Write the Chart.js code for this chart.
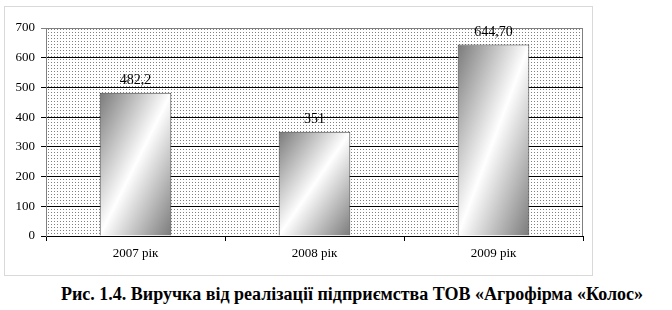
<!DOCTYPE html>
<html>
<head>
<meta charset="utf-8">
<script src="https://cdn.jsdelivr.net/npm/chart.js@4"></script>
<style>
  body { margin: 0; background: #fff; width: 672px; height: 310px; position: relative; overflow: hidden; }
  #box { position: absolute; left: 4px; top: 6px; width: 587px; height: 268px; border: 1px solid #d9d9d9; }
  #caption { position: absolute; left: 0; width: 704px; top: 284px; text-align: center;
    font: bold 18px "Liberation Serif", serif; color: #000; white-space: nowrap; }
</style>
</head>
<body>
<div id="box"><canvas id="revenueChart" width="587" height="268"></canvas></div>
<div id="caption">Рис. 1.4. Виручка від реалізації підприємства ТОВ «Агрофірма «Колос»</div>
<script>
const years = ['2007 рік', '2008 рік', '2009 рік'];
const revenue = [482.2, 351, 644.7];
const revenueLabels = ['482,2', '351', '644,70'];
const yTicks = [0, 100, 200, 300, 400, 500, 600, 700];

// dotted fill for the plot area
function dotPattern(ctx) {
  const c = document.createElement('canvas');
  c.width = 3; c.height = 3;
  const p = c.getContext('2d');
  p.fillStyle = '#fff';
  p.fillRect(0, 0, 3, 3);
  p.fillStyle = '#808080';
  p.fillRect(1, 1, 1, 1);
  return ctx.createPattern(c, 'repeat');
}

const plotBackground = {
  id: 'plotBackground',
  beforeDraw(chart) {
    const { ctx, chartArea: a } = chart;
    ctx.save();
    ctx.fillStyle = dotPattern(ctx);
    ctx.fillRect(a.left, a.top, a.right - a.left, a.bottom - a.top);
    ctx.strokeStyle = '#808080';
    ctx.lineWidth = 1;
    ctx.beginPath();
    ctx.moveTo(a.left, a.top + 0.5);
    ctx.lineTo(a.right - 0.5, a.top + 0.5);
    ctx.lineTo(a.right - 0.5, a.bottom);
    ctx.stroke();
    ctx.restore();
  }
};

const barLabels = {
  id: 'barLabels',
  afterDatasetsDraw(chart) {
    const { ctx } = chart;
    const meta = chart.getDatasetMeta(0);
    ctx.save();
    ctx.font = '14px "Liberation Serif", serif';
    ctx.fillStyle = '#000';
    ctx.textAlign = 'center';
    ctx.textBaseline = 'bottom';
    meta.data.forEach((bar, i) => {
      ctx.fillText(revenueLabels[i], bar.x, bar.y - 5);
    });
    ctx.restore();
  }
};

// diagonal gradient: dark corners top-left / bottom-right, white along the anti-diagonal
function barGradient(context) {
  const chart = context.chart;
  if (!chart.chartArea || context.dataIndex === undefined) return '#ccc';
  const x = chart.scales.x, y = chart.scales.y;
  const cat = (chart.chartArea.right - chart.chartArea.left) / years.length;
  const w = cat * 0.4;
  const cx = x.getPixelForValue(context.dataIndex);
  const top = y.getPixelForValue(revenue[context.dataIndex]);
  const bottom = y.getPixelForValue(0);
  const h = bottom - top;
  const cy = (top + bottom) / 2;
  const k = (w * h) / (w * w + h * h);
  const g = chart.ctx.createLinearGradient(cx - k * h, cy - k * w, cx + k * h, cy + k * w);
  g.addColorStop(0, '#7a7a7a');
  g.addColorStop(0.5, '#ffffff');
  g.addColorStop(1, '#7a7a7a');
  return g;
}

new Chart(document.getElementById('revenueChart'), {
  type: 'bar',
  data: {
    labels: years,
    datasets: [{
      data: revenue,
      backgroundColor: barGradient,
      borderColor: '#404040',
      borderWidth: 1,
      categoryPercentage: 1,
      barPercentage: 0.4
    }]
  },
  options: {
    responsive: false,
    animation: false,
    layout: { padding: { top: 21, right: 9, left: 0, bottom: 0 } },
    plugins: { legend: { display: false }, tooltip: { enabled: false } },
    scales: {
      x: {
        afterFit(scale) { scale.height = 39; },
        grid: { drawOnChartArea: false, tickLength: 5, color: '#000', offset: true },
        border: { color: '#000' },
        ticks: { color: '#000', padding: 5, font: { family: '"Liberation Serif", serif', size: 13 } }
      },
      y: {
        min: 0, max: 700,
        afterFit(scale) { scale.width = 41; },
        afterBuildTicks(scale) { scale.ticks = yTicks.map(v => ({ value: v })); },
        grid: {
          tickLength: 5,
          color: c => (c.tick && c.tick.value === 700 ? '#808080' : '#000')
        },
        border: { color: '#808080' },
        ticks: { color: '#000', padding: 6, font: { family: '"Liberation Serif", serif', size: 13 } }
      }
    }
  },
  plugins: [plotBackground, barLabels]
});
</script>
</body>
</html>
